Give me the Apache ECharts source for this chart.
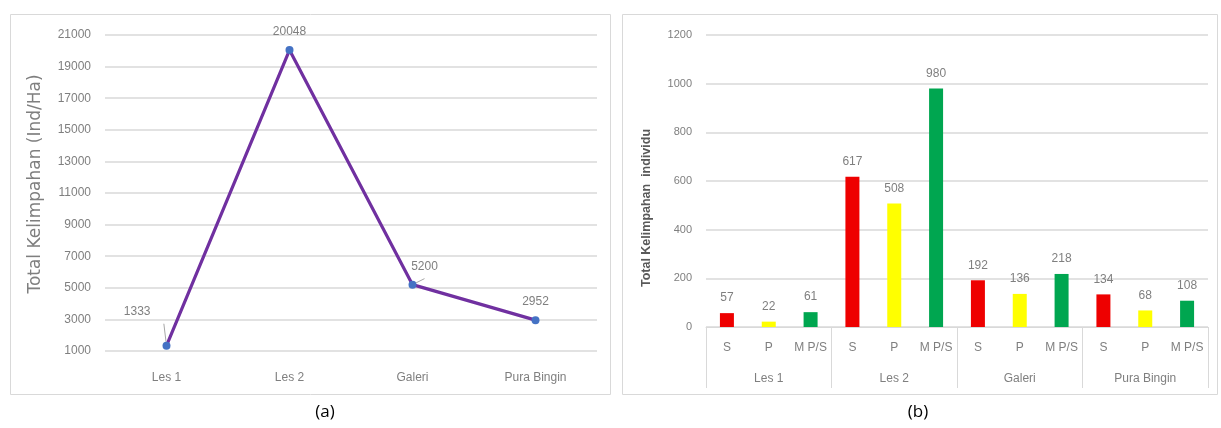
<!DOCTYPE html>
<html>
<head>
<meta charset="utf-8">
<script src="https://cdn.jsdelivr.net/npm/echarts@6/dist/echarts.min.js"></script>
<style>
  html, body { margin: 0; padding: 0; background: #fff; }
  #myChart { width: 1221px; height: 428px; }
</style>
</head>
<body>
<div id="myChart"></div>
<script>
// panel (a): total abundance per site
var sites = ['Les 1', 'Les 2', 'Galeri', 'Pura Bingin'];
var kelimpahan = [1333, 20048, 5200, 2952];
var yTicksA = { min: 1000, max: 21000, interval: 2000 };

// panel (b): individuals per group per site
var groups = ['S', 'P', 'M P/S'];
var nilaiS = [57, 617, 192, 134];
var nilaiP = [22, 508, 136, 68];
var nilaiMPS = [61, 980, 218, 108];
var warna = ['#ee0000', '#ffff00', '#00a650'];
var yTicksB = { min: 0, max: 1200, interval: 200 };

var font = '"Liberation Sans Narrow", "Liberation Sans", sans-serif';
var gridCol = '#d9d9d9';
var textCol = '#7f7f7f';

// flatten panel (b) into 12 bars
var subCats = [];
var barData = [];
for (var i = 0; i < sites.length; i++) {
  var vals = [nilaiS[i], nilaiP[i], nilaiMPS[i]];
  for (var j = 0; j < groups.length; j++) {
    subCats.push(groups[j]);
    barData.push({ value: vals[j], itemStyle: { color: warna[j] } });
  }
}

// line points, some labels moved off with leader lines
var lineData = kelimpahan.map(function (v, i) {
  var item = { value: v };
  if (i === 0) {
    item.label = { position: 'left', offset: [-4, -34] };
    item.labelLine = { show: true };
  }
  if (i === 2) {
    item.label = { position: 'top', offset: [12, 0] };
    item.labelLine = { show: true };
  }
  return item;
});

// plain numbers, no thousands separator
function plain(v) { return String(v); }

var myChart = echarts.init(document.getElementById('myChart'));
myChart.setOption({
  animation: false,
  textStyle: { fontFamily: font },
  graphic: [
    { type: 'rect', shape: { x: 10.5, y: 14.5, width: 600, height: 380 },
      style: { fill: 'none', stroke: gridCol, lineWidth: 1 } },
    { type: 'rect', shape: { x: 622.5, y: 14.5, width: 595, height: 380 },
      style: { fill: 'none', stroke: gridCol, lineWidth: 1 } },
    { type: 'text', x: 325, y: 412, style: { text: '(a)', font: '17px "Open Sans", sans-serif', fill: '#000', align: 'center', verticalAlign: 'middle' } },
    { type: 'text', x: 918, y: 412, style: { text: '(b)', font: '17px "Open Sans", sans-serif', fill: '#000', align: 'center', verticalAlign: 'middle' } },
    { type: 'text', x: 36, y: 184, rotation: Math.PI / 2,
      style: { text: 'Total Kelimpahan (Ind/Ha)', font: '17px "DejaVu Sans", sans-serif', fill: '#7f7f7f', align: 'center', verticalAlign: 'middle' } },
    { type: 'text', x: 647, y: 208, rotation: Math.PI / 2,
      style: { text: 'Total Kelimpahan  individu', font: 'bold 12.5px "Liberation Sans", sans-serif', fill: '#595959', align: 'center', verticalAlign: 'middle' } }
  ],
  grid: [
    { left: 105, right: 624, top: 35, bottom: 77 },
    { left: 706, right: 13, top: 35, bottom: 101 }
  ],
  xAxis: [
    {
      gridIndex: 0, type: 'category', data: sites,
      axisLine: { show: false }, axisTick: { show: false },
      axisLabel: { color: textCol, fontSize: 12, margin: 21 }
    },
    {
      gridIndex: 1, type: 'category', data: subCats,
      axisLine: { lineStyle: { color: gridCol } }, axisTick: { show: false },
      axisLabel: { color: textCol, fontSize: 12, margin: 15, interval: 0 }
    },
    {
      gridIndex: 1, type: 'category', data: sites, position: 'bottom',
      axisLine: { show: false },
      axisTick: { show: true, interval: 0, length: 61, lineStyle: { color: gridCol } },
      axisLabel: { color: textCol, fontSize: 12, margin: 46, interval: 0 }
    }
  ],
  yAxis: [
    {
      gridIndex: 0, type: 'value', min: yTicksA.min, max: yTicksA.max, interval: yTicksA.interval,
      axisLine: { show: false }, axisTick: { show: false },
      axisLabel: { color: textCol, fontSize: 12, margin: 14, formatter: plain },
      splitLine: { lineStyle: { color: gridCol, width: 1.5 } }
    },
    {
      gridIndex: 1, type: 'value', min: yTicksB.min, max: yTicksB.max, interval: yTicksB.interval,
      axisLine: { show: false }, axisTick: { show: false },
      axisLabel: { color: textCol, fontSize: 11, margin: 14, formatter: plain },
      splitLine: { lineStyle: { color: gridCol, width: 1.5 } }
    }
  ],
  series: [
    {
      type: 'line', xAxisIndex: 0, yAxisIndex: 0,
      data: lineData,
      lineStyle: { color: '#7030a0', width: 3.2 },
      itemStyle: { color: '#4472c4' },
      symbol: 'circle', symbolSize: 8,
      label: { show: true, position: 'top', color: textCol, fontSize: 12, distance: 8 },
      labelLine: { lineStyle: { color: '#a6a6a6', width: 1 } }
    },
    {
      type: 'bar', xAxisIndex: 1, yAxisIndex: 1,
      data: barData, barWidth: 14,
      label: { show: true, position: 'top', color: textCol, fontSize: 12, distance: 9 }
    }
  ]
});
</script>
</body>
</html>
